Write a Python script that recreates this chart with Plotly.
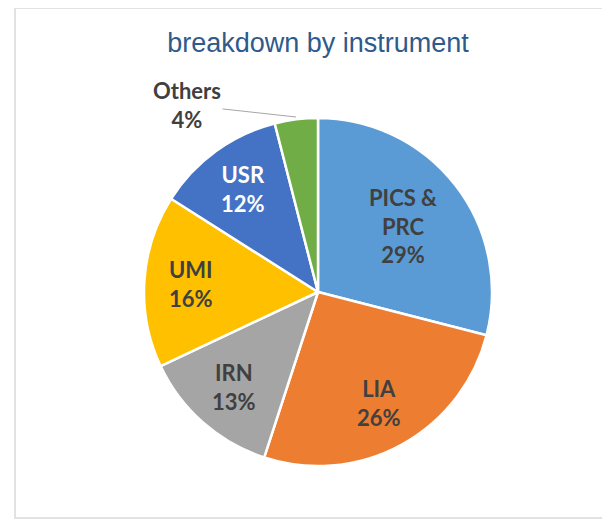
import math
import plotly.graph_objects as go

labels = ["PICS &<br>PRC", "LIA", "IRN", "UMI", "USR", "Others"]
values = [29, 26, 13, 16, 12, 4]
colors = ["#5B9BD5", "#ED7D31", "#A5A5A5", "#FFC000", "#4472C4", "#70AD47"]
text_colors = ["#404040", "#404040", "#404040", "#404040", "#FFFFFF", "#404040"]
label_inside = [True, True, True, True, True, False]

W, H = 610, 520
OFF = 8  # page body margin offset

# pie geometry (pixels in the page)
CX, CY, R = 318, 292, 174
# radial position of each inside label, as a fraction of the radius
label_radius = [0.62, 0.73, 0.73, 0.73, 0.73, 0.0]

def px(x):
    return (x - OFF) / W

def py(y):
    return 1 - (y - OFF) / H

fig = go.Figure(go.Pie(
    labels=labels,
    values=values,
    sort=False,
    direction="clockwise",
    rotation=0,
    marker=dict(colors=colors, line=dict(color="white", width=2.5)),
    textinfo="none",
    showlegend=False,
    hoverinfo="label+percent",
    domain=dict(x=[px(CX - R), px(CX + R)], y=[py(CY + R), py(CY - R)]),
))

annotations = []
total = sum(values)
cum = 0
for lab, val, col, inside, lr in zip(labels, values, text_colors, label_inside, label_radius):
    mid = (cum + val / 2) / total * 2 * math.pi
    cum += val
    pct = round(val / total * 100)
    if not inside:
        continue
    lx = CX + lr * R * math.sin(mid)
    ly = CY - lr * R * math.cos(mid)
    annotations.append(dict(
        text=f"<b>{lab}<br>{pct}%</b>", xref="paper", yref="paper",
        x=px(lx), y=py(ly), xanchor="center", yanchor="middle",
        showarrow=False, font=dict(family="Lato", size=22, color=col)))

# Others label with leader line
annotations.append(dict(
    text=f"<b>Others</b><br><b>{round(values[-1] / total * 100)}%</b>",
    xref="paper", yref="paper",
    x=px(296), y=py(117), ax=187 - 296, ay=105 - 117,
    showarrow=True, arrowhead=0, arrowwidth=1, arrowcolor="#A6A6A6",
    font=dict(family="Lato", size=22, color="#404040")))

fig.update_layout(
    width=W, height=H,
    margin=dict(l=0, r=0, t=0, b=0),
    paper_bgcolor="white",
    plot_bgcolor="white",
    title=dict(text="breakdown by instrument", x=px(318), xanchor="center",
               y=py(43), yanchor="middle",
               font=dict(family="Liberation Sans", size=27, color="#2E5A8C")),
    shapes=[dict(type="rect", xref="paper", yref="paper",
                 x0=px(15), x1=px(640), y0=py(518), y1=py(8),
                 line=dict(color="#D9D9D9", width=1.5), fillcolor="rgba(0,0,0,0)",
                 layer="below")],
    annotations=annotations,
)

fig.write_html("out.html")
